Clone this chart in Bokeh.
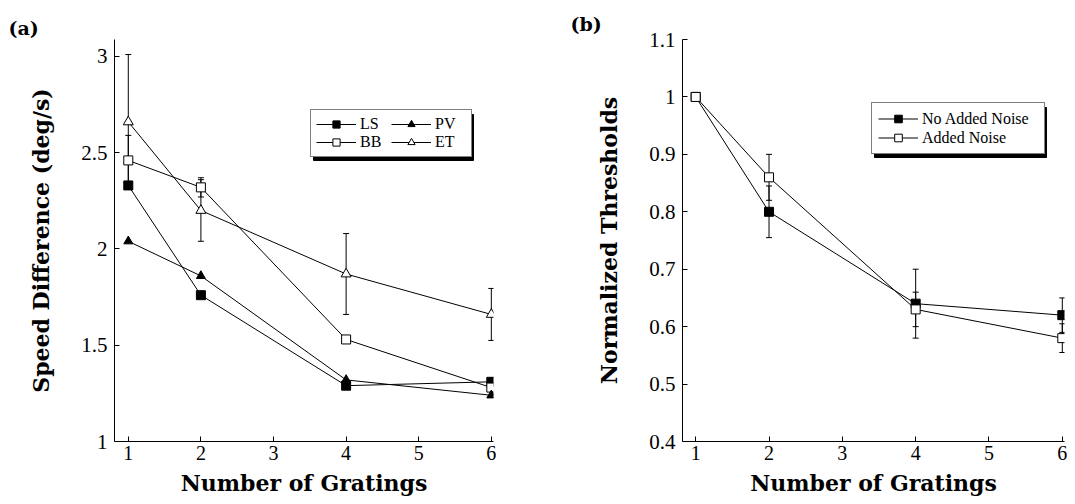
from bokeh.plotting import figure
from bokeh.layouts import row
from bokeh.models import (ColumnDataSource, Whisker, TeeHead, Legend, LegendItem, FixedTicker,
                          Range1d, BoxAnnotation)
from bokeh.embed import file_html
from bokeh.resources import INLINE

# ---------------- data ----------------
gratings = [1, 2, 4, 6]
x_ticks = [1, 2, 3, 4, 5, 6]

# panel (a): speed difference thresholds (deg/s)
ls_vals = [2.33, 1.76, 1.29, 1.31]
bb_vals = [2.46, 2.32, 1.53, 1.28]
pv_vals = [2.04, 1.86, 1.32, 1.24]
et_vals = [2.66, 2.20, 1.87, 1.66]
bb_err = [0.13, 0.05, 0.0, 0.0]
et_err = [0.35, 0.16, 0.21, 0.135]
a_ticks = [1, 1.5, 2, 2.5, 3]
a_tick_labels = ["1", "1.5", "2", "2.5", "3"]

# panel (b): normalized thresholds
no_noise_vals = [1.0, 0.80, 0.64, 0.62]
noise_vals = [1.0, 0.86, 0.63, 0.58]
no_noise_err = [0.0, 0.045, 0.06, 0.03]
noise_err = [0.0, 0.04, 0.03, 0.025]
b_ticks = [0.4, 0.5, 0.6, 0.7, 0.8, 0.9, 1.0, 1.1]
b_tick_labels = ["0.4", "0.5", "0.6", "0.7", "0.8", "0.9", "1", "1.1"]

SERIF = "Liberation Serif"
BOLD_SERIF = "DejaVu Serif"


def style(p, ticks, labels):
    p.outline_line_color = None
    p.grid.grid_line_color = None
    p.background_fill_color = "white"
    p.border_fill_color = "white"
    for ax in (p.xaxis[0], p.yaxis[0]):
        ax.axis_line_color = "black"
        ax.axis_line_width = 1
        ax.major_tick_in = 5
        ax.major_tick_out = 0
        ax.major_tick_line_color = "black"
        ax.minor_tick_line_color = None
        ax.major_label_text_font = SERIF
        ax.major_label_text_font_size = "21px"
        ax.major_label_text_color = "black"
        ax.axis_label_text_font = BOLD_SERIF
        ax.axis_label_text_font_style = "bold"
        ax.axis_label_text_font_size = "22px"
        ax.axis_label_text_color = "black"
    p.xaxis[0].ticker = FixedTicker(ticks=x_ticks)
    p.xaxis[0].major_label_text_font_size = "20px"
    p.xaxis[0].major_label_standoff = 4
    p.xaxis[0].axis_label_standoff = 7
    p.yaxis[0].ticker = FixedTicker(ticks=ticks)
    p.yaxis[0].major_label_overrides = {t: l for t, l in zip(ticks, labels)}
    p.yaxis[0].major_label_standoff = 7
    p.yaxis[0].axis_label_standoff = 24
    p.title.text_font = BOLD_SERIF
    p.title.text_font_style = "bold"
    p.title.text_font_size = "19px"
    p.title.text_color = "black"


def series(p, ys):
    src = ColumnDataSource(dict(x=gratings, y=ys))
    ln = p.line("x", "y", source=src, line_color="black", line_width=1)
    return src, ln


def markers(p, src, marker, filled, size):
    return p.scatter("x", "y", source=src, marker=marker, size=size,
                     fill_color="black" if filled else "white",
                     line_color="black", line_width=1)


def whisker(p, ys, errs):
    xs = [g for g, e in zip(gratings, errs) if e > 0]
    lo = [y - e for y, e in zip(ys, errs) if e > 0]
    hi = [y + e for y, e in zip(ys, errs) if e > 0]
    src = ColumnDataSource(dict(x=xs, lo=lo, hi=hi))
    w = Whisker(source=src, base="x", lower="lo", upper="hi", line_color="black", line_width=1,
                upper_head=TeeHead(size=6, line_color="black", line_width=1),
                lower_head=TeeHead(size=6, line_color="black", line_width=1))
    p.add_layout(w)


def add_legend(p, items, loc, glyph_w, label_w, row_h, pad, ncols=1):
    nrows = (len(items) + ncols - 1) // ncols
    w = 2 * pad + ncols * (glyph_w + 4 + label_w)
    h = 2 * pad + nrows * row_h
    sh = 3
    shadow = BoxAnnotation(left=loc[0] + sh, right=loc[0] + w + sh,
                           bottom=loc[1] - sh, top=loc[1] + h - sh,
                           left_units="screen", right_units="screen",
                           bottom_units="screen", top_units="screen",
                           fill_color="black", fill_alpha=1, line_color="black", line_alpha=1)
    p.add_layout(shadow)
    lg = Legend(items=items, location=loc, ncols=ncols)
    lg.border_line_color = "black"
    lg.border_line_width = 1.5
    lg.background_fill_color = "white"
    lg.background_fill_alpha = 1
    lg.label_text_font = SERIF
    lg.label_text_font_size = "16px"
    lg.label_text_color = "black"
    lg.label_height = row_h
    lg.glyph_height = row_h
    lg.glyph_width = glyph_w
    lg.label_width = label_w
    lg.label_standoff = 4
    lg.spacing = 0
    lg.padding = pad
    lg.margin = 0
    p.add_layout(lg)


# ---------------- panel (a) ----------------
pa = figure(width=553, height=504, output_backend="svg", toolbar_location=None,
            x_range=Range1d(0.81, 6.03), y_range=Range1d(1.0, 3.088),
            min_border_left=114, min_border_right=60, min_border_top=39, min_border_bottom=63,
            title="(a)")
style(pa, a_ticks, a_tick_labels)
pa.title.offset = -106
pa.title.standoff = 2
pa.xaxis.axis_label = "Number of Gratings"
pa.yaxis.axis_label = "Speed Difference (deg/s)"

s_ls, l_ls = series(pa, ls_vals)
s_bb, l_bb = series(pa, bb_vals)
s_pv, l_pv = series(pa, pv_vals)
s_et, l_et = series(pa, et_vals)
whisker(pa, bb_vals, bb_err)
whisker(pa, et_vals, et_err)
m_ls = markers(pa, s_ls, "square", True, 9)
m_bb = markers(pa, s_bb, "square", False, 9)
m_pv = markers(pa, s_pv, "triangle", True, 9)
m_et = markers(pa, s_et, "triangle", False, 10)

items_a = [
    LegendItem(label="LS", renderers=[l_ls, m_ls]),
    LegendItem(label="BB", renderers=[l_bb, m_bb]),
    LegendItem(label="PV", renderers=[l_pv, m_pv]),
    LegendItem(label="ET", renderers=[l_et, m_et]),
]
add_legend(pa, items_a, (196, 284), glyph_w=40, label_w=31, row_h=18, pad=5, ncols=2)

# ---------------- panel (b) ----------------
pb = figure(width=514, height=504, output_backend="svg", toolbar_location=None,
            x_range=Range1d(0.82, 6.03), y_range=Range1d(0.4, 1.1),
            min_border_left=129, min_border_right=3, min_border_top=39, min_border_bottom=63,
            title="(b)")
style(pb, b_ticks, b_tick_labels)
pb.title.offset = -112
pb.title.standoff = 9
pb.xaxis.axis_label = "Number of Gratings"
pb.yaxis.axis_label = "Normalized Thresholds"

s_nn, l_nn = series(pb, no_noise_vals)
s_n, l_n = series(pb, noise_vals)
whisker(pb, no_noise_vals, no_noise_err)
whisker(pb, noise_vals, noise_err)
m_nn = markers(pb, s_nn, "square", True, 9)
m_n = markers(pb, s_n, "square", False, 9)

items_b = [
    LegendItem(label="No Added Noise", renderers=[l_nn, m_nn]),
    LegendItem(label="Added Noise", renderers=[l_n, m_n]),
]
add_legend(pb, items_b, (189, 287), glyph_w=40, label_w=116, row_h=19, pad=6)

layout = row(pa, pb)
open("out.html", "w").write(file_html(layout, INLINE))
